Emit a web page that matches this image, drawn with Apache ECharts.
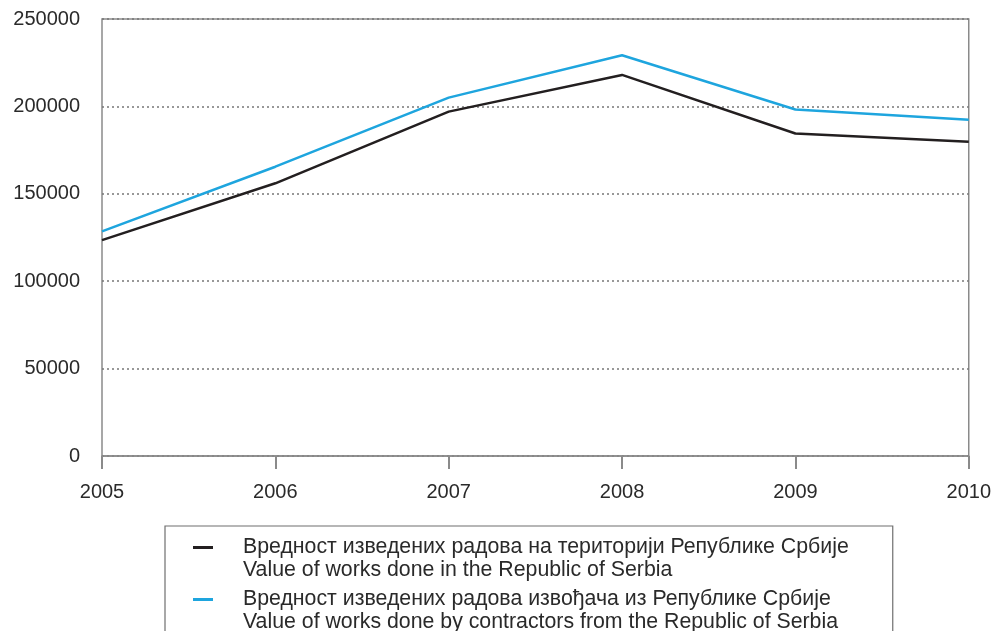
<!DOCTYPE html>
<html>
<head>
<meta charset="utf-8">
<script src="https://cdn.jsdelivr.net/npm/echarts@6/dist/echarts.min.js"></script>
<style>
  html, body { margin: 0; padding: 0; background: #fff; }
  #chart { width: 994px; height: 631px; }
</style>
</head>
<body>
<div id="chart"></div>
<script>
// годинe / years
var years = ['2005', '2006', '2007', '2008', '2009', '2010'];
// вредност изведених радова на територији Републике Србије
var territory = [123500, 156000, 197000, 218000, 184500, 179800];
// вредност изведених радова извођача из Републике Србије
var contractors = [128500, 165500, 205000, 229300, 198200, 192400];

var names = [
  ['Вредност изведених радова на територији Републике Србије', 'Value of works done in the Republic of Serbia'],
  ['Вредност изведених радова извођача из Републике Србије', 'Value of works done by contractors from the Republic of Serbia']
];
var colors = ['#231f20', '#1ea5de'];

var chart = echarts.init(document.getElementById('chart'), null, { renderer: 'canvas' });

var font = 'Liberation Sans, Arial, sans-serif';

var option = {
  animation: false,
  color: colors,
  grid: {
    left: 102, right: 24, top: 19, bottom: 175,
    show: true,
    borderColor: '#8a8a8a',
    borderWidth: 1.5
  },
  legend: {
    orient: 'vertical',
    left: 165,
    top: 526,
    height: 160, // box runs past the bottom edge like in the original
    padding: [11, 44, 40, 22],
    borderColor: '#6f6f6f',
    borderWidth: 1.2,
    itemWidth: 0,
    itemHeight: 0,
    itemGap: 8,
    selectedMode: false,
    itemStyle: { opacity: 0 },
    data: names.map(function (n) { return n[0]; }),
    formatter: function (name) {
      var i = name === names[0][0] ? 0 : 1;
      return '{m' + i + '|}{g|}{t|' + names[i][0] + '}\n{ind|}{t|' + names[i][1] + '}';
    },
    textStyle: {
      fontFamily: font,
      fontSize: 21,
      color: '#2a2a2a',
      rich: {
        m0: { width: 20, height: 3, backgroundColor: colors[0], verticalAlign: 'middle' },
        m1: { width: 20, height: 3, backgroundColor: colors[1], verticalAlign: 'middle' },
        g: { width: 30 },
        ind: { width: 50 },
        t: { fontFamily: font, fontSize: 21.3, lineHeight: 23, color: '#2a2a2a' }
      }
    }
  },
  xAxis: {
    type: 'category',
    data: years,
    boundaryGap: false,
    axisLine: { lineStyle: { color: '#8a8a8a', width: 1.5 } },
    axisTick: { show: true, length: 13, inside: false, lineStyle: { color: '#8a8a8a', width: 2 } },
    axisLabel: { margin: 26, fontFamily: font, fontSize: 20, color: '#2a2a2a' },
    splitLine: { show: false }
  },
  yAxis: {
    type: 'value',
    min: 0,
    max: 250000,
    interval: 50000,
    axisLine: { show: false },
    axisTick: { show: false },
    axisLabel: {
      margin: 22, fontFamily: font, fontSize: 20, color: '#2a2a2a',
      formatter: function (v) { return String(v); }
    },
    splitLine: { lineStyle: { color: '#777', type: [2, 3], width: 1.5 } }
  },
  series: [
    {
      name: names[0][0],
      type: 'line',
      data: territory,
      symbol: 'none',
      lineStyle: { color: colors[0], width: 2.5 }
    },
    {
      name: names[1][0],
      type: 'line',
      data: contractors,
      symbol: 'none',
      lineStyle: { color: colors[1], width: 2.5 }
    }
  ]
};

chart.setOption(option);
</script>
</body>
</html>
